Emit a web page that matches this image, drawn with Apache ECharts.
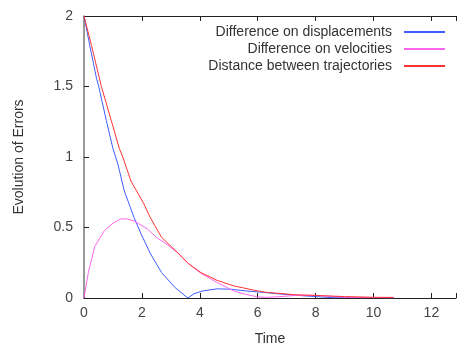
<!DOCTYPE html>
<html>
<head>
<meta charset="utf-8">
<script src="https://cdn.jsdelivr.net/npm/echarts@6/dist/echarts.min.js"></script>
<style>
  html, body { margin: 0; padding: 0; background: #fff; }
  #chart { width: 459px; height: 351px; }
</style>
</head>
<body>
<div id="chart"></div>
<script>
// values, [time, error]
const displacements = [
  [0, 2.0], [0.2, 1.79], [0.43, 1.56], [0.51, 1.5], [0.77, 1.26], [1.0, 1.06],
  [1.17, 0.95], [1.39, 0.76], [1.73, 0.57], [1.96, 0.46], [2.28, 0.32],
  [2.68, 0.18], [3.14, 0.075], [3.59, 0],
  [3.8, 0.03], [4.1, 0.05], [4.6, 0.065], [5.1, 0.062], [5.6, 0.05],
  [6.2, 0.04], [6.8, 0.028], [7.4, 0.018], [8.0, 0.01], [8.6, 0.002],
  [9.0, 0.003], [9.6, 0.004], [10.2, 0.003], [10.7, 0.002]
]
const velocities = [
  [0, 0], [0.15, 0.18], [0.37, 0.365], [0.71, 0.48], [1.0, 0.53],
  [1.28, 0.562], [1.5, 0.56], [1.73, 0.546], [2.19, 0.49],
  [2.5, 0.43], [2.8, 0.39], [3.25, 0.32], [3.6, 0.245],
  [4.04, 0.175], [4.6, 0.11], [5.17, 0.05], [5.6, 0.025], [6.0, 0.008],
  [6.3, 0.004], [6.8, 0.01], [7.3, 0.018], [7.9, 0.02], [8.5, 0.012],
  [9.0, 0.005], [9.6, 0.003], [10.2, 0.002], [10.7, 0.002]
]
const trajectories = [
  [0, 2.0], [0.26, 1.79], [0.6, 1.5], [0.94, 1.26], [1.22, 1.06], [1.34, 1.0],
  [1.62, 0.83], [2.07, 0.667], [2.28, 0.574], [2.68, 0.43], [3.14, 0.34],
  [3.6, 0.245], [4.04, 0.18], [4.6, 0.125], [5.17, 0.086], [6.0, 0.05],
  [6.3, 0.04], [7.3, 0.023], [8.0, 0.018], [9.0, 0.01], [10.0, 0.005],
  [10.7, 0.004]
]
const seriesNames = ['Difference on displacements', 'Difference on velocities', 'Distance between trajectories']
const seriesColors = ['#3f5fff', '#ff66f0', '#ff3333']

const font = 'Liberation Sans'
const chart = echarts.init(document.getElementById('chart'))

const line = (name, data, color) => ({
  name,
  type: 'line',
  data,
  showSymbol: false,
  animation: false,
  color,
  lineStyle: { width: 1, color },
})

chart.setOption({
  animation: false,
  grid: { left: 84, right: -3, top: 16, bottom: 49 },
  legend: {
    orient: 'vertical',
    right: 9,
    top: 20,
    align: 'right',
    icon: 'rect',
    itemWidth: 41,
    itemHeight: 2,
    itemGap: 3,
    selectedMode: false,
    textStyle: { fontFamily: font, fontSize: 14, color: '#333', padding: [0, 7, 0, 0] },
    data: seriesNames,
  },
  xAxis: [
    {
      type: 'value',
      min: 0,
      max: 12.85,
      interval: 2,
      name: 'Time',
      nameLocation: 'middle',
      nameGap: 34,
      nameTextStyle: { fontFamily: font, fontSize: 14, color: '#333' },
      axisLine: { lineStyle: { color: '#222', width: 1 } },
      axisTick: { inside: true, length: 5, lineStyle: { color: '#222' } },
      axisLabel: {
        fontFamily: font, fontSize: 14, color: '#444', margin: 8,
        formatter: v => (v % 2 === 0 ? String(v) : ''),
      },
      splitLine: { show: false },
    },
    {
      type: 'value',
      position: 'top',
      min: 0,
      max: 12.85,
      interval: 2,
      axisLine: { lineStyle: { color: '#222', width: 1 } },
      axisTick: { inside: true, length: 5, lineStyle: { color: '#222' } },
      axisLabel: { show: false },
      splitLine: { show: false },
    },
  ],
  yAxis: {
    type: 'value',
    min: 0,
    max: 2,
    interval: 0.5,
    name: 'Evolution of Errors',
    nameLocation: 'middle',
    nameRotate: 90,
    nameGap: 58,
    nameTextStyle: { fontFamily: font, fontSize: 14, color: '#333' },
    axisLine: { show: true, lineStyle: { color: '#777', width: 1.5 } },
    axisTick: { show: true, inside: true, length: 5, lineStyle: { color: '#222' } },
    axisLabel: { fontFamily: font, fontSize: 14, color: '#444', margin: 11 },
    splitLine: { show: false },
  },
  series: [
    line(seriesNames[0], displacements, seriesColors[0]),
    line(seriesNames[1], velocities, seriesColors[1]),
    line(seriesNames[2], trajectories, seriesColors[2]),
  ],
})
</script>
</body>
</html>
